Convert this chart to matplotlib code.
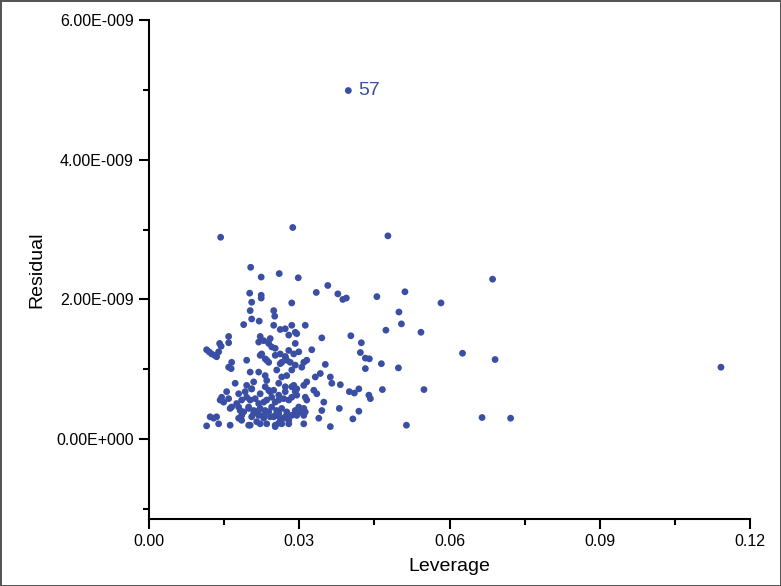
import numpy as np
import matplotlib
matplotlib.use("Agg")
import matplotlib.pyplot as plt
from matplotlib.ticker import FuncFormatter, MultipleLocator

plt.rcParams['font.family'] = ['Liberation Sans', 'DejaVu Sans']

# leverage values and residuals (residual in units of 1e-9)
leverage = [
    0.0189, 0.0159, 0.0159, 0.0141, 0.0144, 0.0115, 0.0120, 0.0125, 0.0131, 0.0135,
    0.0139, 0.0165, 0.0159, 0.0164, 0.0172, 0.0155, 0.0145, 0.0142, 0.0149, 0.0159,
    0.0165, 0.0162, 0.0179, 0.0185, 0.0175, 0.0182, 0.0185, 0.0179, 0.0135, 0.0129,
    0.0122, 0.0139, 0.0115, 0.0162,
    0.0143, 0.0287, 0.0203, 0.0224, 0.0260, 0.0298, 0.0334, 0.0201, 0.0224, 0.0224,
    0.0205, 0.0202, 0.0205, 0.0220, 0.0249, 0.0251, 0.0249, 0.0262, 0.0272, 0.0279,
    0.0222, 0.0219, 0.0229, 0.0242, 0.0245, 0.0252, 0.0239, 0.0262, 0.0272, 0.0265,
    0.0275, 0.0279, 0.0222, 0.0232, 0.0239, 0.0195, 0.0202, 0.0219, 0.0232, 0.0235,
    0.0255, 0.0265, 0.0275, 0.0195, 0.0205, 0.0209, 0.0232, 0.0239, 0.0249, 0.0259,
    0.0272, 0.0195, 0.0202, 0.0212, 0.0219, 0.0229, 0.0235, 0.0245, 0.0252, 0.0259,
    0.0269, 0.0279, 0.0199, 0.0209, 0.0222, 0.0232, 0.0245, 0.0255, 0.0265, 0.0275,
    0.0205, 0.0219, 0.0229, 0.0242, 0.0252, 0.0262, 0.0272, 0.0199, 0.0222, 0.0252,
    0.0259, 0.0279,
    0.0285, 0.0312, 0.0285, 0.0292, 0.0295, 0.0345, 0.0292, 0.0299, 0.0289, 0.0325,
    0.0315, 0.0309, 0.0305, 0.0352, 0.0292, 0.0285, 0.0342, 0.0332, 0.0315, 0.0309,
    0.0362, 0.0365, 0.0289, 0.0295, 0.0292, 0.0329, 0.0335, 0.0312, 0.0315, 0.0349,
    0.0285, 0.0299, 0.0309, 0.0302, 0.0312, 0.0292, 0.0345, 0.0285, 0.0295, 0.0339,
    0.0309, 0.0362,
    0.0477, 0.0686, 0.0357, 0.0377, 0.0387, 0.0394, 0.0455, 0.0511, 0.0583, 0.0499,
    0.0504, 0.0473, 0.0543, 0.0403, 0.0424, 0.0422, 0.0432, 0.0440, 0.0382, 0.0464,
    0.0498, 0.0626, 0.0691, 0.0432, 0.0400, 0.0410, 0.0419, 0.0439, 0.0442, 0.0466,
    0.0549, 0.0380, 0.0419, 0.0407, 0.0514, 0.0665, 0.0722, 0.1142,
    # denser core of the cluster
    0.0179, 0.0189, 0.0199, 0.0209, 0.0219, 0.0229, 0.0239, 0.0249, 0.0259, 0.0269,
    0.0279, 0.0292, 0.0302, 0.0309, 0.0185, 0.0202, 0.0215, 0.0235, 0.0252, 0.0265,
    0.0279, 0.0192, 0.0205, 0.0222, 0.0242, 0.0259, 0.0272, 0.0285, 0.0295, 0.0225,
    0.0235, 0.0252, 0.0262, 0.0272, 0.0282,
]
residual = [
    1.64, 1.47, 1.38, 1.37, 1.33, 1.28, 1.25, 1.22, 1.20, 1.18,
    1.25, 1.10, 1.03, 1.01, 0.80, 0.68, 0.60, 0.56, 0.53, 0.58,
    0.46, 0.44, 0.65, 0.56, 0.51, 0.41, 0.34, 0.30, 0.32, 0.30,
    0.32, 0.22, 0.19, 0.20,
    2.89, 3.03, 2.46, 2.32, 2.37, 2.31, 2.10, 2.09, 2.06, 2.02,
    1.96, 1.84, 1.72, 1.69, 1.84, 1.76, 1.63, 1.57, 1.58, 1.49,
    1.47, 1.39, 1.41, 1.44, 1.32, 1.30, 1.37, 1.22, 1.18, 1.10,
    1.13, 1.27, 1.20, 1.15, 1.10, 1.13, 0.96, 0.96, 0.91, 0.84,
    0.99, 0.89, 0.91, 0.77, 0.72, 0.82, 0.75, 0.70, 0.70, 0.80,
    0.75, 0.60, 0.56, 0.58, 0.51, 0.53, 0.56, 0.60, 0.53, 0.56,
    0.58, 0.56, 0.46, 0.41, 0.44, 0.41, 0.46, 0.41, 0.44, 0.39,
    0.32, 0.34, 0.30, 0.32, 0.34, 0.30, 0.32, 0.20, 0.22, 0.20,
    0.23, 0.22,
    1.95, 1.63, 1.63, 1.53, 1.51, 1.45, 1.37, 1.25, 1.22, 1.28,
    1.13, 1.10, 1.03, 1.07, 1.06, 0.99, 0.94, 0.89, 0.82, 0.77,
    0.89, 0.80, 0.77, 0.72, 0.68, 0.70, 0.65, 0.60, 0.56, 0.53,
    0.60, 0.46, 0.44, 0.39, 0.39, 0.41, 0.41, 0.34, 0.34, 0.30,
    0.22, 0.18,
    2.91, 2.29, 2.20, 2.08, 2.00, 2.02, 2.04, 2.11, 1.95, 1.82,
    1.65, 1.56, 1.53, 1.48, 1.38, 1.24, 1.16, 1.15, 0.78, 1.08,
    1.02, 1.23, 1.14, 1.01, 0.68, 0.66, 0.72, 0.63, 0.58, 0.71,
    0.71, 0.44, 0.40, 0.29, 0.20, 0.31, 0.30, 1.03,
    0.46, 0.39, 0.44, 0.37, 0.41, 0.34, 0.39, 0.32, 0.37, 0.30,
    0.34, 0.39, 0.41, 0.34, 0.27, 0.20, 0.25, 0.22, 0.18, 0.22,
    0.27, 0.68, 0.72, 0.65, 0.68, 0.63, 0.68, 0.75, 0.63, 1.22,
    1.13, 1.20, 1.08, 1.18, 1.10,
]
outlier_lev = 0.0398
outlier_res = 4.99
outlier_label = "57"

x = np.array(leverage)
y = np.array(residual) * 1e-9

color = '#3a4ea4'

fig = plt.figure(figsize=(7.81, 5.86), dpi=100)
fig.patch.set_edgecolor('#555555')
fig.patch.set_linewidth(2)
ax = fig.add_axes([0.1908, 0.1143, 0.7695, 0.8516])

ax.scatter(x, y, s=24, color=color, edgecolors='none', zorder=3)
ax.scatter([outlier_lev], [outlier_res * 1e-9], s=24, color=color, edgecolors='none', zorder=3)
ax.annotate(outlier_label, (outlier_lev, outlier_res * 1e-9), xytext=(7, 0),
            textcoords='offset points', va='center', ha='left', color=color, fontsize=14)

ax.set_xlim(0, 0.12)
ax.set_ylim(-1.143e-9, 6e-9)

ax.xaxis.set_major_locator(MultipleLocator(0.03))
ax.xaxis.set_minor_locator(MultipleLocator(0.015))
ax.yaxis.set_major_locator(MultipleLocator(2e-9))
ax.yaxis.set_minor_locator(MultipleLocator(1e-9))


def sci_fmt(v, pos):
    if abs(v) < 1e-15:
        return "0.00E+000"
    e = int(np.floor(np.log10(abs(v))))
    m = v / 10 ** e
    sign = '-' if e < 0 else '+'
    return "%.2fE%s%03d" % (m, sign, abs(e))


ax.yaxis.set_major_formatter(FuncFormatter(sci_fmt))
ax.xaxis.set_major_formatter(FuncFormatter(lambda v, p: "%.2f" % v))

for s in ['top', 'right']:
    ax.spines[s].set_visible(False)
for s in ['left', 'bottom']:
    ax.spines[s].set_linewidth(1.5)

ax.tick_params(which='major', direction='out', length=7, width=1.5, labelsize=11.5, pad=4)
ax.tick_params(which='minor', direction='out', length=4, width=1.5)

ax.set_xlabel('Leverage', fontsize=14, labelpad=6)
ax.set_ylabel('Residual', fontsize=14, labelpad=8)

fig.savefig('out.png', dpi=100, edgecolor=fig.get_edgecolor())
